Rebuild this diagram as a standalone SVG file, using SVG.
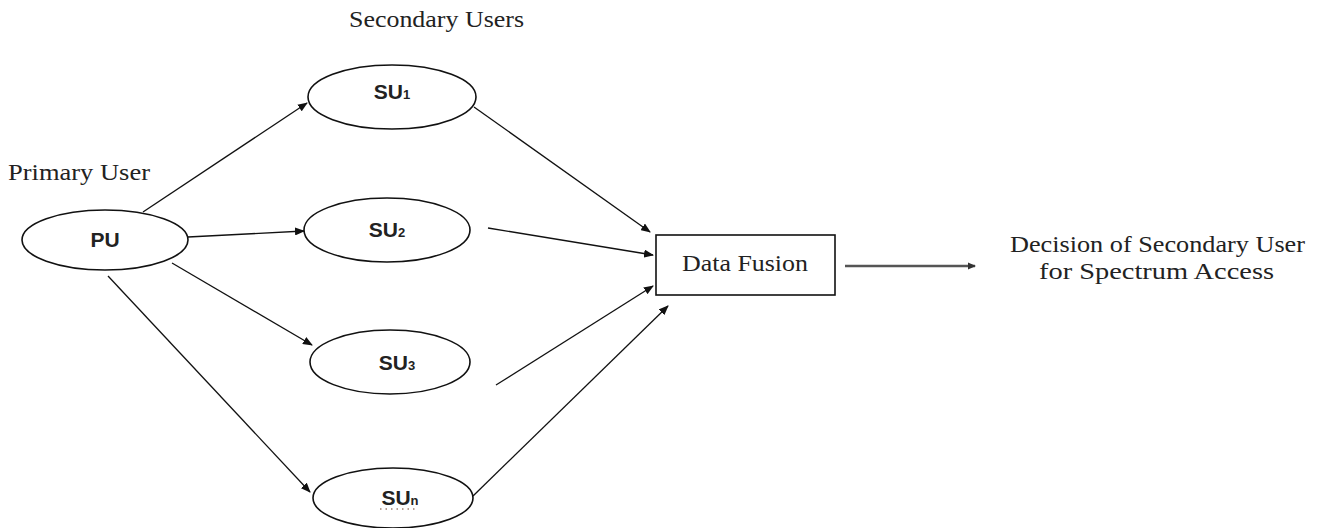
<svg xmlns="http://www.w3.org/2000/svg" width="1321" height="528" viewBox="0 0 1321 528">
<style>
.node{fill:#fff;stroke:#111;stroke-width:1.6}
.lbl{font-family:"Liberation Sans",Arial,sans-serif;font-weight:bold;font-size:21px;fill:#222;text-anchor:middle}
.sub{font-size:13px}
.ser{font-family:"Liberation Serif","Times New Roman",serif;font-size:23px;fill:#222}
.edge{stroke:#111;stroke-width:1.3;fill:none;marker-end:url(#ah)}
</style>
<defs>
<marker id="ah" markerWidth="10" markerHeight="8" refX="9" refY="4" orient="auto" markerUnits="userSpaceOnUse">
<path d="M0,0 L10,4 L0,8 Z" fill="#111"/>
</marker>
<marker id="ah2" markerWidth="8" markerHeight="8" refX="7" refY="4" orient="auto" markerUnits="userSpaceOnUse">
<path d="M0,0.5 L8,4 L0,7.5 Z" fill="#333"/>
</marker>
</defs>
<rect width="1321" height="528" fill="#fff"/>
<text class="ser" x="349" y="27" textLength="175" lengthAdjust="spacingAndGlyphs">Secondary Users</text>
<text class="ser" x="8" y="180" textLength="142" lengthAdjust="spacingAndGlyphs">Primary User</text>
<g id="connectors">
<line class="edge" x1="143" y1="212" x2="307" y2="103"/>
<line class="edge" x1="188" y1="237" x2="304" y2="231"/>
<line class="edge" x1="172" y1="263" x2="312" y2="345"/>
<line class="edge" x1="108" y1="276" x2="310" y2="492"/>
<line class="edge" x1="474" y1="107" x2="650" y2="232"/>
<line class="edge" x1="488" y1="228" x2="653" y2="255"/>
<line class="edge" x1="496" y1="385" x2="653" y2="286"/>
<line class="edge" x1="473" y1="496" x2="668" y2="306"/>
<line x1="845" y1="266" x2="975" y2="266" stroke="#555" stroke-width="2.4" marker-end="url(#ah2)"/>
</g>
<g id="PU">
<ellipse class="node" cx="105" cy="240" rx="83" ry="30"/>
<text class="lbl" x="105" y="247">PU</text>
</g>
<g id="SU1">
<ellipse class="node" cx="392" cy="97" rx="84" ry="32"/>
<text class="lbl" x="392" y="99">SU<tspan class="sub">1</tspan></text>
</g>
<g id="SU2">
<ellipse class="node" cx="387" cy="230" rx="83" ry="32"/>
<text class="lbl" x="387" y="237">SU<tspan class="sub">2</tspan></text>
</g>
<g id="SU3">
<ellipse class="node" cx="390" cy="362" rx="80" ry="32"/>
<text class="lbl" x="397" y="370">SU<tspan class="sub">3</tspan></text>
</g>
<g id="SUn">
<ellipse class="node" cx="393" cy="498" rx="80" ry="30"/>
<text class="lbl" x="400" y="505">SU<tspan class="sub">n</tspan></text>
<line x1="380" y1="509" x2="415" y2="509" stroke="#a08070" stroke-width="1.3" stroke-dasharray="1.5,4"/>
</g>
<g id="DataFusion">
<rect class="node" x="656" y="235" width="179" height="60" stroke-width="1.4"/>
<text class="ser" x="682" y="271" textLength="126" lengthAdjust="spacingAndGlyphs">Data Fusion</text>
</g>
<g id="Decision">
<text class="ser" x="1010" y="252" textLength="295" lengthAdjust="spacingAndGlyphs">Decision of Secondary User</text>
<text class="ser" x="1039" y="279" textLength="235" lengthAdjust="spacingAndGlyphs">for Spectrum Access</text>
</g>
</svg>
